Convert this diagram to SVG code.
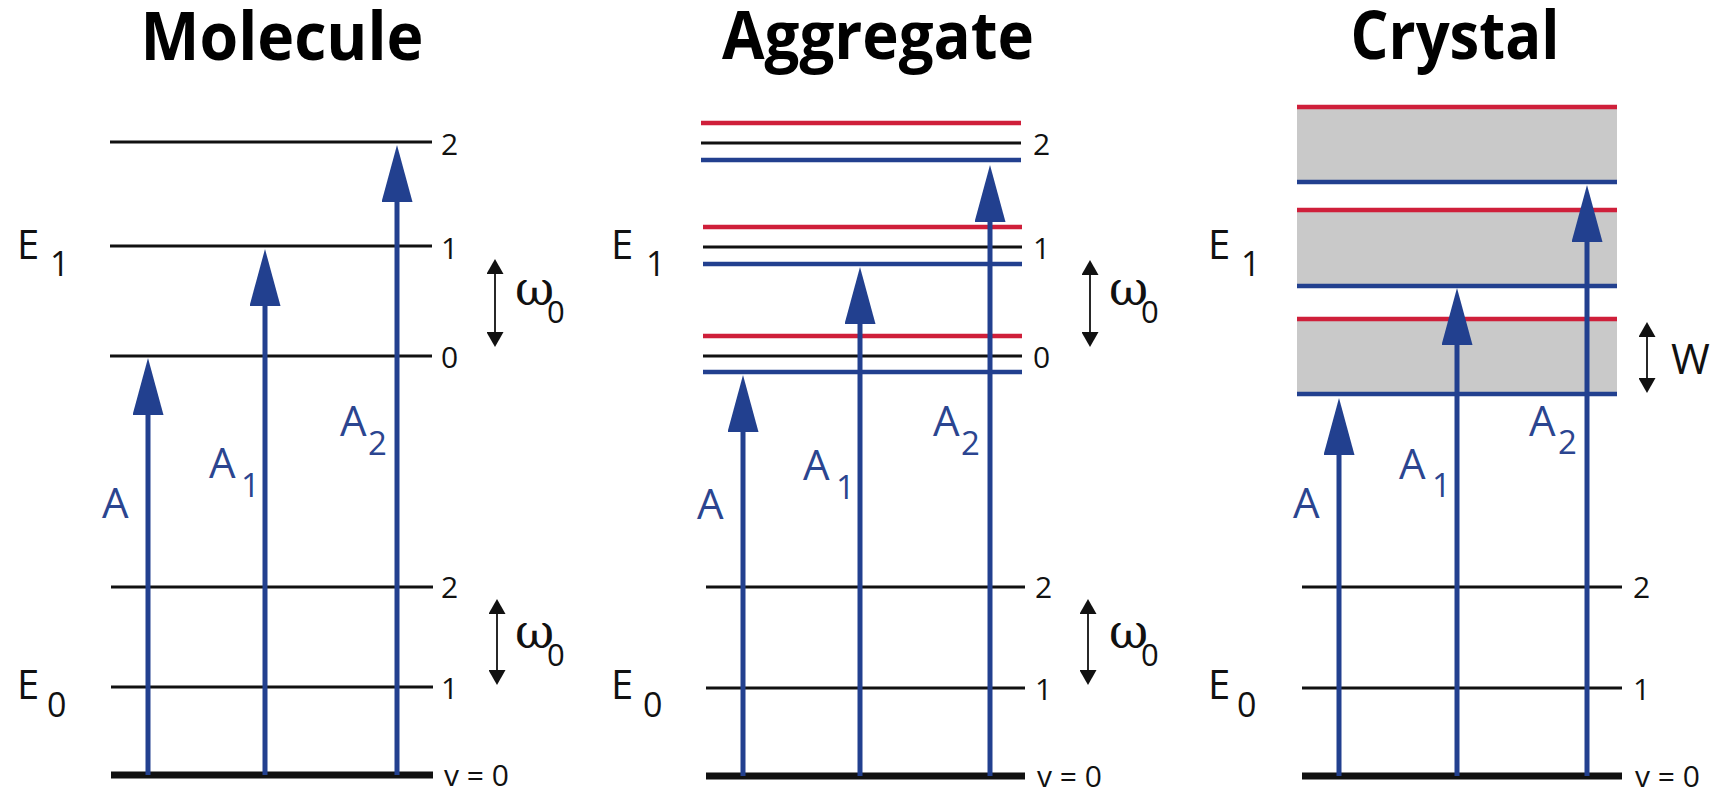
<svg xmlns="http://www.w3.org/2000/svg" width="1718" height="789" viewBox="0 0 1718 789">
<style>
.title{font-family:"Open Sans","Liberation Sans",sans-serif;font-weight:700;font-size:66px;fill:#000;text-anchor:middle}
.lv{stroke:#111;stroke-width:3;fill:none}
.gnd{stroke:#111;stroke-width:7;fill:none}
.red{stroke:#cf1f3a;stroke-width:4.5;fill:none}
.blu{stroke:#22408f;stroke-width:4.5;fill:none}
.band{fill:#c9c9c9}
.num{font-family:"Open Sans","Liberation Sans",sans-serif;font-size:30px;fill:#111}
.E{font-family:"Open Sans","Liberation Sans",sans-serif;font-size:40px;fill:#111}
.Es{font-size:34px}
.A{font-family:"Open Sans","Liberation Sans",sans-serif;font-size:42px;fill:#2b4590}
.As{font-size:33px}
.om{font-family:"Open Sans","Liberation Sans",sans-serif;font-size:31px;fill:#111}
.omg{font-family:"DejaVu Serif","Liberation Serif",serif;font-size:48px}
.W{font-family:"Open Sans","Liberation Sans",sans-serif;font-size:42px;fill:#111}
.tr{stroke:#22408f;stroke-width:5;fill:none;marker-end:url(#bh)}
.dbl{stroke:#111;stroke-width:1.8;fill:none;marker-start:url(#sh);marker-end:url(#sh)}
</style>
<defs>
<marker id="bh" viewBox="0 0 57 31" refX="2" refY="15.5" markerWidth="57" markerHeight="31" markerUnits="userSpaceOnUse" orient="auto">
<path d="M0,0 L57,15.5 L0,31 Z" fill="#22408f"/>
</marker>
<marker id="sh" viewBox="0 0 15 17" refX="2" refY="8.5" markerWidth="15" markerHeight="17" markerUnits="userSpaceOnUse" orient="auto-start-reverse">
<path d="M0,0 L15,8.5 L0,17 Z" fill="#111"/>
</marker>
</defs>
<rect width="1718" height="789" fill="#fff"/>

<g id="titles">
<text class="title" x="282" y="60" textLength="283" lengthAdjust="spacingAndGlyphs">Molecule</text>
<text class="title" x="878" y="59" textLength="312" lengthAdjust="spacingAndGlyphs">Aggregate</text>
<text class="title" x="1455" y="59" textLength="209" lengthAdjust="spacingAndGlyphs">Crystal</text>
</g>

<g id="molecule">
<line class="lv" x1="110" y1="142" x2="432" y2="142"/>
<line class="lv" x1="110" y1="246" x2="432" y2="246"/>
<line class="lv" x1="110" y1="356" x2="432" y2="356"/>
<line class="lv" x1="111" y1="587" x2="433" y2="587"/>
<line class="lv" x1="111" y1="687" x2="433" y2="687"/>
<line class="gnd" x1="111" y1="775" x2="433" y2="775"/>
<text class="num" x="441" y="155">2</text>
<text class="num" x="441" y="259">1</text>
<text class="num" x="441" y="368">0</text>
<text class="num" x="441" y="598">2</text>
<text class="num" x="441" y="699">1</text>
<text class="num" x="444" y="786">v = 0</text>
<text class="E"><tspan x="17" y="259">E</tspan><tspan class="Es" x="50" y="276">1</tspan></text>
<text class="E"><tspan x="17" y="699">E</tspan><tspan class="Es" x="47" y="717">0</tspan></text>
<text class="om"><tspan class="omg" x="515" y="305">ω</tspan><tspan x="547" y="323">0</tspan></text>
<text class="om"><tspan class="omg" x="515" y="648">ω</tspan><tspan x="547" y="666">0</tspan></text>
<text class="A" x="102" y="518">A</text>
<text class="A"><tspan x="209" y="478">A</tspan><tspan class="As" x="241" y="497">1</tspan></text>
<text class="A"><tspan x="340" y="436">A</tspan><tspan class="As" x="368" y="455">2</tspan></text>
</g>

<g id="aggregate">
<line class="red" x1="701" y1="123" x2="1021" y2="123"/>
<line class="lv" x1="701" y1="143" x2="1021" y2="143"/>
<line class="blu" x1="701" y1="160" x2="1021" y2="160"/>
<line class="red" x1="703" y1="227" x2="1022" y2="227"/>
<line class="lv" x1="703" y1="247" x2="1022" y2="247"/>
<line class="blu" x1="703" y1="264" x2="1022" y2="264"/>
<line class="red" x1="703" y1="336" x2="1022" y2="336"/>
<line class="lv" x1="703" y1="356" x2="1022" y2="356"/>
<line class="blu" x1="703" y1="372" x2="1022" y2="372"/>
<line class="lv" x1="706" y1="587" x2="1025" y2="587"/>
<line class="lv" x1="706" y1="688" x2="1025" y2="688"/>
<line class="gnd" x1="706" y1="776" x2="1025" y2="776"/>
<text class="num" x="1033" y="155">2</text>
<text class="num" x="1033" y="259">1</text>
<text class="num" x="1033" y="368">0</text>
<text class="num" x="1035" y="598">2</text>
<text class="num" x="1035" y="700">1</text>
<text class="num" x="1037" y="787">v = 0</text>
<text class="E"><tspan x="611" y="259">E</tspan><tspan class="Es" x="646" y="276">1</tspan></text>
<text class="E"><tspan x="611" y="699">E</tspan><tspan class="Es" x="643" y="717">0</tspan></text>
<text class="om"><tspan class="omg" x="1109" y="305">ω</tspan><tspan x="1141" y="323">0</tspan></text>
<text class="om"><tspan class="omg" x="1109" y="648">ω</tspan><tspan x="1141" y="666">0</tspan></text>
<text class="A" x="697" y="519">A</text>
<text class="A"><tspan x="803" y="480">A</tspan><tspan class="As" x="836" y="499">1</tspan></text>
<text class="A"><tspan x="933" y="436">A</tspan><tspan class="As" x="961" y="455">2</tspan></text>
</g>

<g id="crystal">
<rect class="band" x="1297" y="107" width="320" height="75"/>
<rect class="band" x="1297" y="210" width="320" height="76"/>
<rect class="band" x="1297" y="319" width="320" height="75"/>
<line class="red" x1="1297" y1="107" x2="1617" y2="107"/>
<line class="blu" x1="1297" y1="182" x2="1617" y2="182"/>
<line class="red" x1="1297" y1="210" x2="1617" y2="210"/>
<line class="blu" x1="1297" y1="286" x2="1617" y2="286"/>
<line class="red" x1="1297" y1="319" x2="1617" y2="319"/>
<line class="blu" x1="1297" y1="394" x2="1617" y2="394"/>
<line class="lv" x1="1302" y1="587" x2="1622" y2="587"/>
<line class="lv" x1="1302" y1="688" x2="1622" y2="688"/>
<line class="gnd" x1="1302" y1="776" x2="1622" y2="776"/>
<text class="num" x="1633" y="598">2</text>
<text class="num" x="1633" y="700">1</text>
<text class="num" x="1635" y="787">v = 0</text>
<text class="E"><tspan x="1208" y="259">E</tspan><tspan class="Es" x="1241" y="276">1</tspan></text>
<text class="E"><tspan x="1208" y="699">E</tspan><tspan class="Es" x="1237" y="717">0</tspan></text>
<text class="A" x="1293" y="518">A</text>
<text class="A"><tspan x="1399" y="479">A</tspan><tspan class="As" x="1432" y="497">1</tspan></text>
<text class="A"><tspan x="1529" y="436">A</tspan><tspan class="As" x="1558" y="454">2</tspan></text>
<text class="W" x="1671" y="374">W</text>
</g>

<g id="connectors">
<line class="tr" x1="148" y1="775" x2="148" y2="413"/>
<line class="tr" x1="265" y1="775" x2="265" y2="304"/>
<line class="tr" x1="397" y1="775" x2="397" y2="200"/>
<line class="tr" x1="743" y1="776" x2="743" y2="430"/>
<line class="tr" x1="860" y1="776" x2="860" y2="322"/>
<line class="tr" x1="990" y1="776" x2="990" y2="220"/>
<line class="tr" x1="1339" y1="776" x2="1339" y2="453"/>
<line class="tr" x1="1457" y1="776" x2="1457" y2="343"/>
<line class="tr" x1="1587" y1="776" x2="1587" y2="240"/>
<line class="dbl" x1="495" y1="272" x2="495" y2="334"/>
<line class="dbl" x1="497" y1="612" x2="497" y2="672"/>
<line class="dbl" x1="1090" y1="273" x2="1090" y2="334"/>
<line class="dbl" x1="1088" y1="612" x2="1088" y2="672"/>
<line class="dbl" x1="1647" y1="335" x2="1647" y2="380"/>
</g>
</svg>
